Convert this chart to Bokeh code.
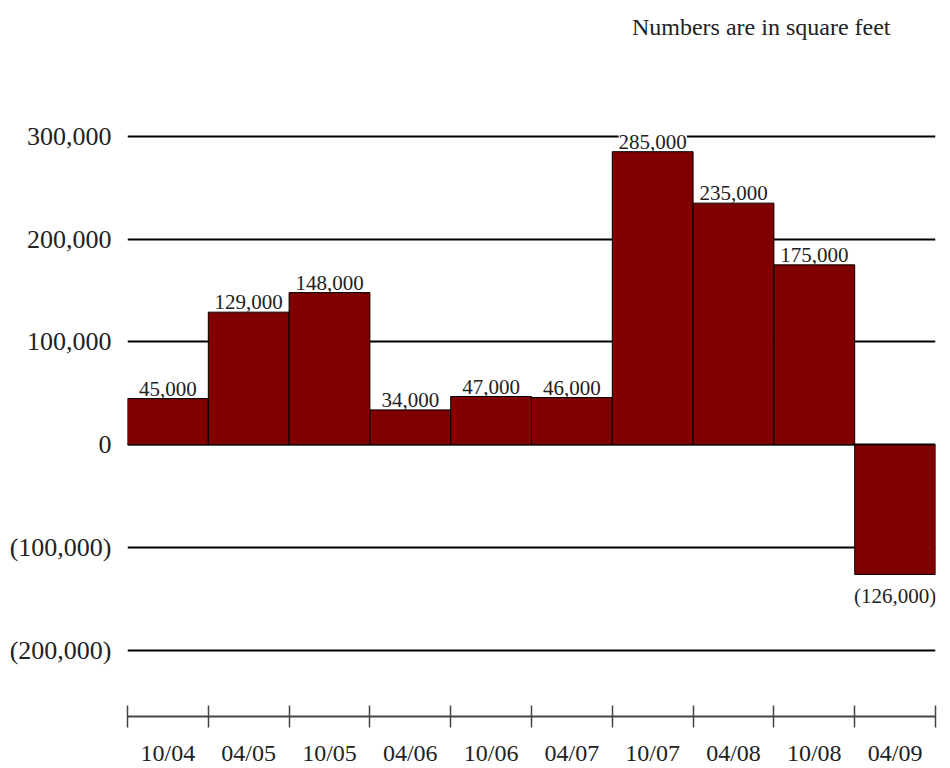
from bokeh.plotting import figure
from bokeh.models import (ColumnDataSource, FixedTicker, CustomJSTickFormatter,
                          LabelSet, Label, Range1d)
from bokeh.embed import file_html
from bokeh.resources import INLINE

# ---- data ----
periods = ["10/04", "04/05", "10/05", "04/06", "10/06", "04/07", "10/07", "04/08", "10/08", "04/09"]
values = [45000, 129000, 148000, 34000, 47000, 46000, 285000, 235000, 175000, -126000]
y_ticks = [300000, 200000, 100000, 0, -100000, -200000]
y_tick_labels = ["300,000", "200,000", "100,000", "0", "(100,000)", "(200,000)"]
note = "Numbers are in square feet"

FONT = "Liberation Serif"
TXT = "#222222"
BAR = "#800000"

def fmt(v):
    return f"{v:,}" if v >= 0 else f"({-v:,})"

idx = list(range(len(periods)))
src = ColumnDataSource(dict(
    left=idx, right=[i + 1 for i in idx], top=values, bottom=[0] * len(values)))

pos = [i for i, v in enumerate(values) if v >= 0]
neg = [i for i, v in enumerate(values) if v < 0]
src_pos = ColumnDataSource(dict(x=[i + 0.5 for i in pos], y=[values[i] for i in pos],
                                t=[fmt(values[i]) for i in pos]))
src_neg = ColumnDataSource(dict(x=[i + 0.5 for i in neg], y=[values[i] for i in neg],
                                t=[fmt(values[i]) for i in neg]))

p = figure(width=950, height=768, output_backend="svg", toolbar_location=None,
           x_range=Range1d(0, len(periods)), y_range=Range1d(-264100, 432000),
           min_border_left=127, min_border_right=15, min_border_top=0, min_border_bottom=47)
p.outline_line_color = None
p.background_fill_color = "white"
p.border_fill_color = "white"

p.quad(left="left", right="right", top="top", bottom="bottom", source=src,
       fill_color=BAR, line_color="black", line_width=1)

# bar labels
p.add_layout(LabelSet(x="x", y="y", text="t", source=src_pos, text_align="center",
                      text_baseline="bottom", y_offset=3, text_font=FONT, text_font_size="21px",
                      text_color=TXT, background_fill_color="white"))
p.add_layout(LabelSet(x="x", y="y", text="t", source=src_neg, text_align="center",
                      text_baseline="top", y_offset=-10, text_font=FONT, text_font_size="21px",
                      text_color=TXT))

p.add_layout(Label(x=9.443, y=405800, text=note, text_align="right", text_baseline="alphabetic",
                   text_font=FONT, text_font_size="24px", text_color=TXT))

# y axis
yt = FixedTicker(ticks=y_ticks)
p.yaxis.ticker = yt
p.yaxis.formatter = CustomJSTickFormatter(args=dict(tvals=y_ticks, tlabels=y_tick_labels),
                                          code="const i = tvals.indexOf(tick); return i >= 0 ? tlabels[i] : '';")
p.yaxis.axis_line_color = None
p.yaxis.major_tick_line_color = None
p.yaxis.minor_tick_line_color = None
p.yaxis.major_label_standoff = 10
p.yaxis.major_label_text_font = FONT
p.yaxis.major_label_text_font_size = "26px"
p.yaxis.major_label_text_color = TXT

p.ygrid.ticker = yt
p.ygrid.grid_line_color = "black"
p.ygrid.grid_line_width = 2
p.xgrid.visible = False

# x axis
p.xaxis.ticker = FixedTicker(ticks=[i + 0.5 for i in idx], minor_ticks=list(range(len(periods) + 1)))
p.xaxis.formatter = CustomJSTickFormatter(args=dict(plabels=periods),
                                          code="return plabels[Math.floor(tick)];")
p.xaxis.axis_line_color = "#444444"
p.xaxis.axis_line_width = 2
p.xaxis.major_tick_line_color = None
p.xaxis.major_tick_out = 0
p.xaxis.major_tick_in = 0
p.xaxis.minor_tick_line_color = "#444444"
p.xaxis.minor_tick_line_width = 1.5
p.xaxis.minor_tick_in = 11
p.xaxis.minor_tick_out = 11
p.xaxis.major_label_standoff = 12
p.xaxis.major_label_text_font = FONT
p.xaxis.major_label_text_font_size = "24px"
p.xaxis.major_label_text_color = TXT

open("out.html", "w").write(file_html(p, INLINE))
